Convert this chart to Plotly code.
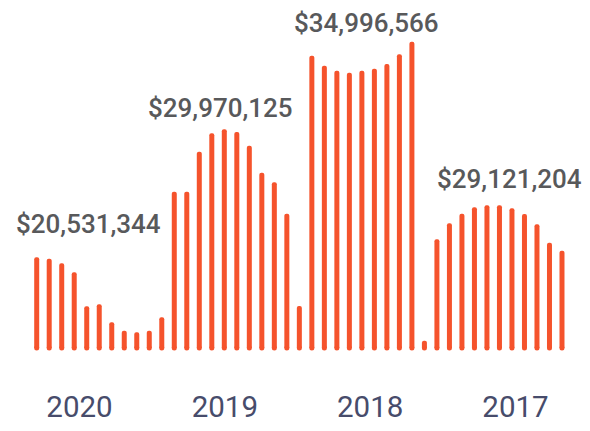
import plotly.graph_objects as go

# Monthly values (in $ millions), left to right
bar_values = [9.07, 8.93, 8.47, 7.57, 4.17, 4.37, 2.57, 1.73, 1.57, 1.73, 3.07,
              15.63, 15.63, 19.63, 21.47, 21.87, 21.60, 20.23, 17.53, 16.57, 13.43,
              4.20,
              29.23, 28.23, 27.73, 27.53, 27.73, 27.93, 28.40, 29.37, 30.63,
              0.73,
              10.87, 12.47, 13.43, 14.07, 14.27, 14.27, 13.97, 13.40, 12.37, 10.53, 9.73]
bar_index = list(range(len(bar_values)))

year_labels = ["2020", "2019", "2018", "2017"]
year_tick_pos = [3.42, 15.04, 26.66, 38.28]

total_labels = ["$20,531,344", "$29,970,125", "$34,996,566", "$29,121,204"]
total_x = [4.17, 14.70, 26.38, 37.84]
total_y = [12.4, 24.0, 32.5, 16.9]

BAR = "#F5532C"
FONT = "Roboto, Liberation Sans, sans-serif"

fig = go.Figure()
fig.add_trace(go.Bar(x=bar_index, y=bar_values, width=0.4,
                     marker=dict(color=BAR, line=dict(width=0)),
                     hoverinfo="skip"))
fig.add_trace(go.Scatter(x=bar_index, y=[0] * len(bar_values), mode="markers",
                         marker=dict(color=BAR, size=5, line=dict(width=0)),
                         hoverinfo="skip"))

for t, x, y in zip(total_labels, total_x, total_y):
    fig.add_annotation(x=x, y=y, xref="x", yref="y", text=t, showarrow=False,
                       font=dict(family=FONT, size=26, color="#58595B", weight=500))

fig.update_layout(
    width=574, height=415,
    margin=dict(l=0, r=0, t=0, b=63),
    paper_bgcolor="white", plot_bgcolor="white",
    showlegend=False, barcornerradius="50%",
    xaxis=dict(range=[-2.295, 43.60], showgrid=False, zeroline=False, showline=False,
               tickmode="array", tickvals=year_tick_pos, ticktext=year_labels,
               ticks="", ticklabelstandoff=26,
               tickfont=dict(family=FONT, size=29.5, color="#474C6B")),
    yaxis=dict(range=[-1.2, 34.0], showgrid=False, zeroline=False, showline=False,
               showticklabels=False, ticks=""),
)

fig.write_html("out.html")
